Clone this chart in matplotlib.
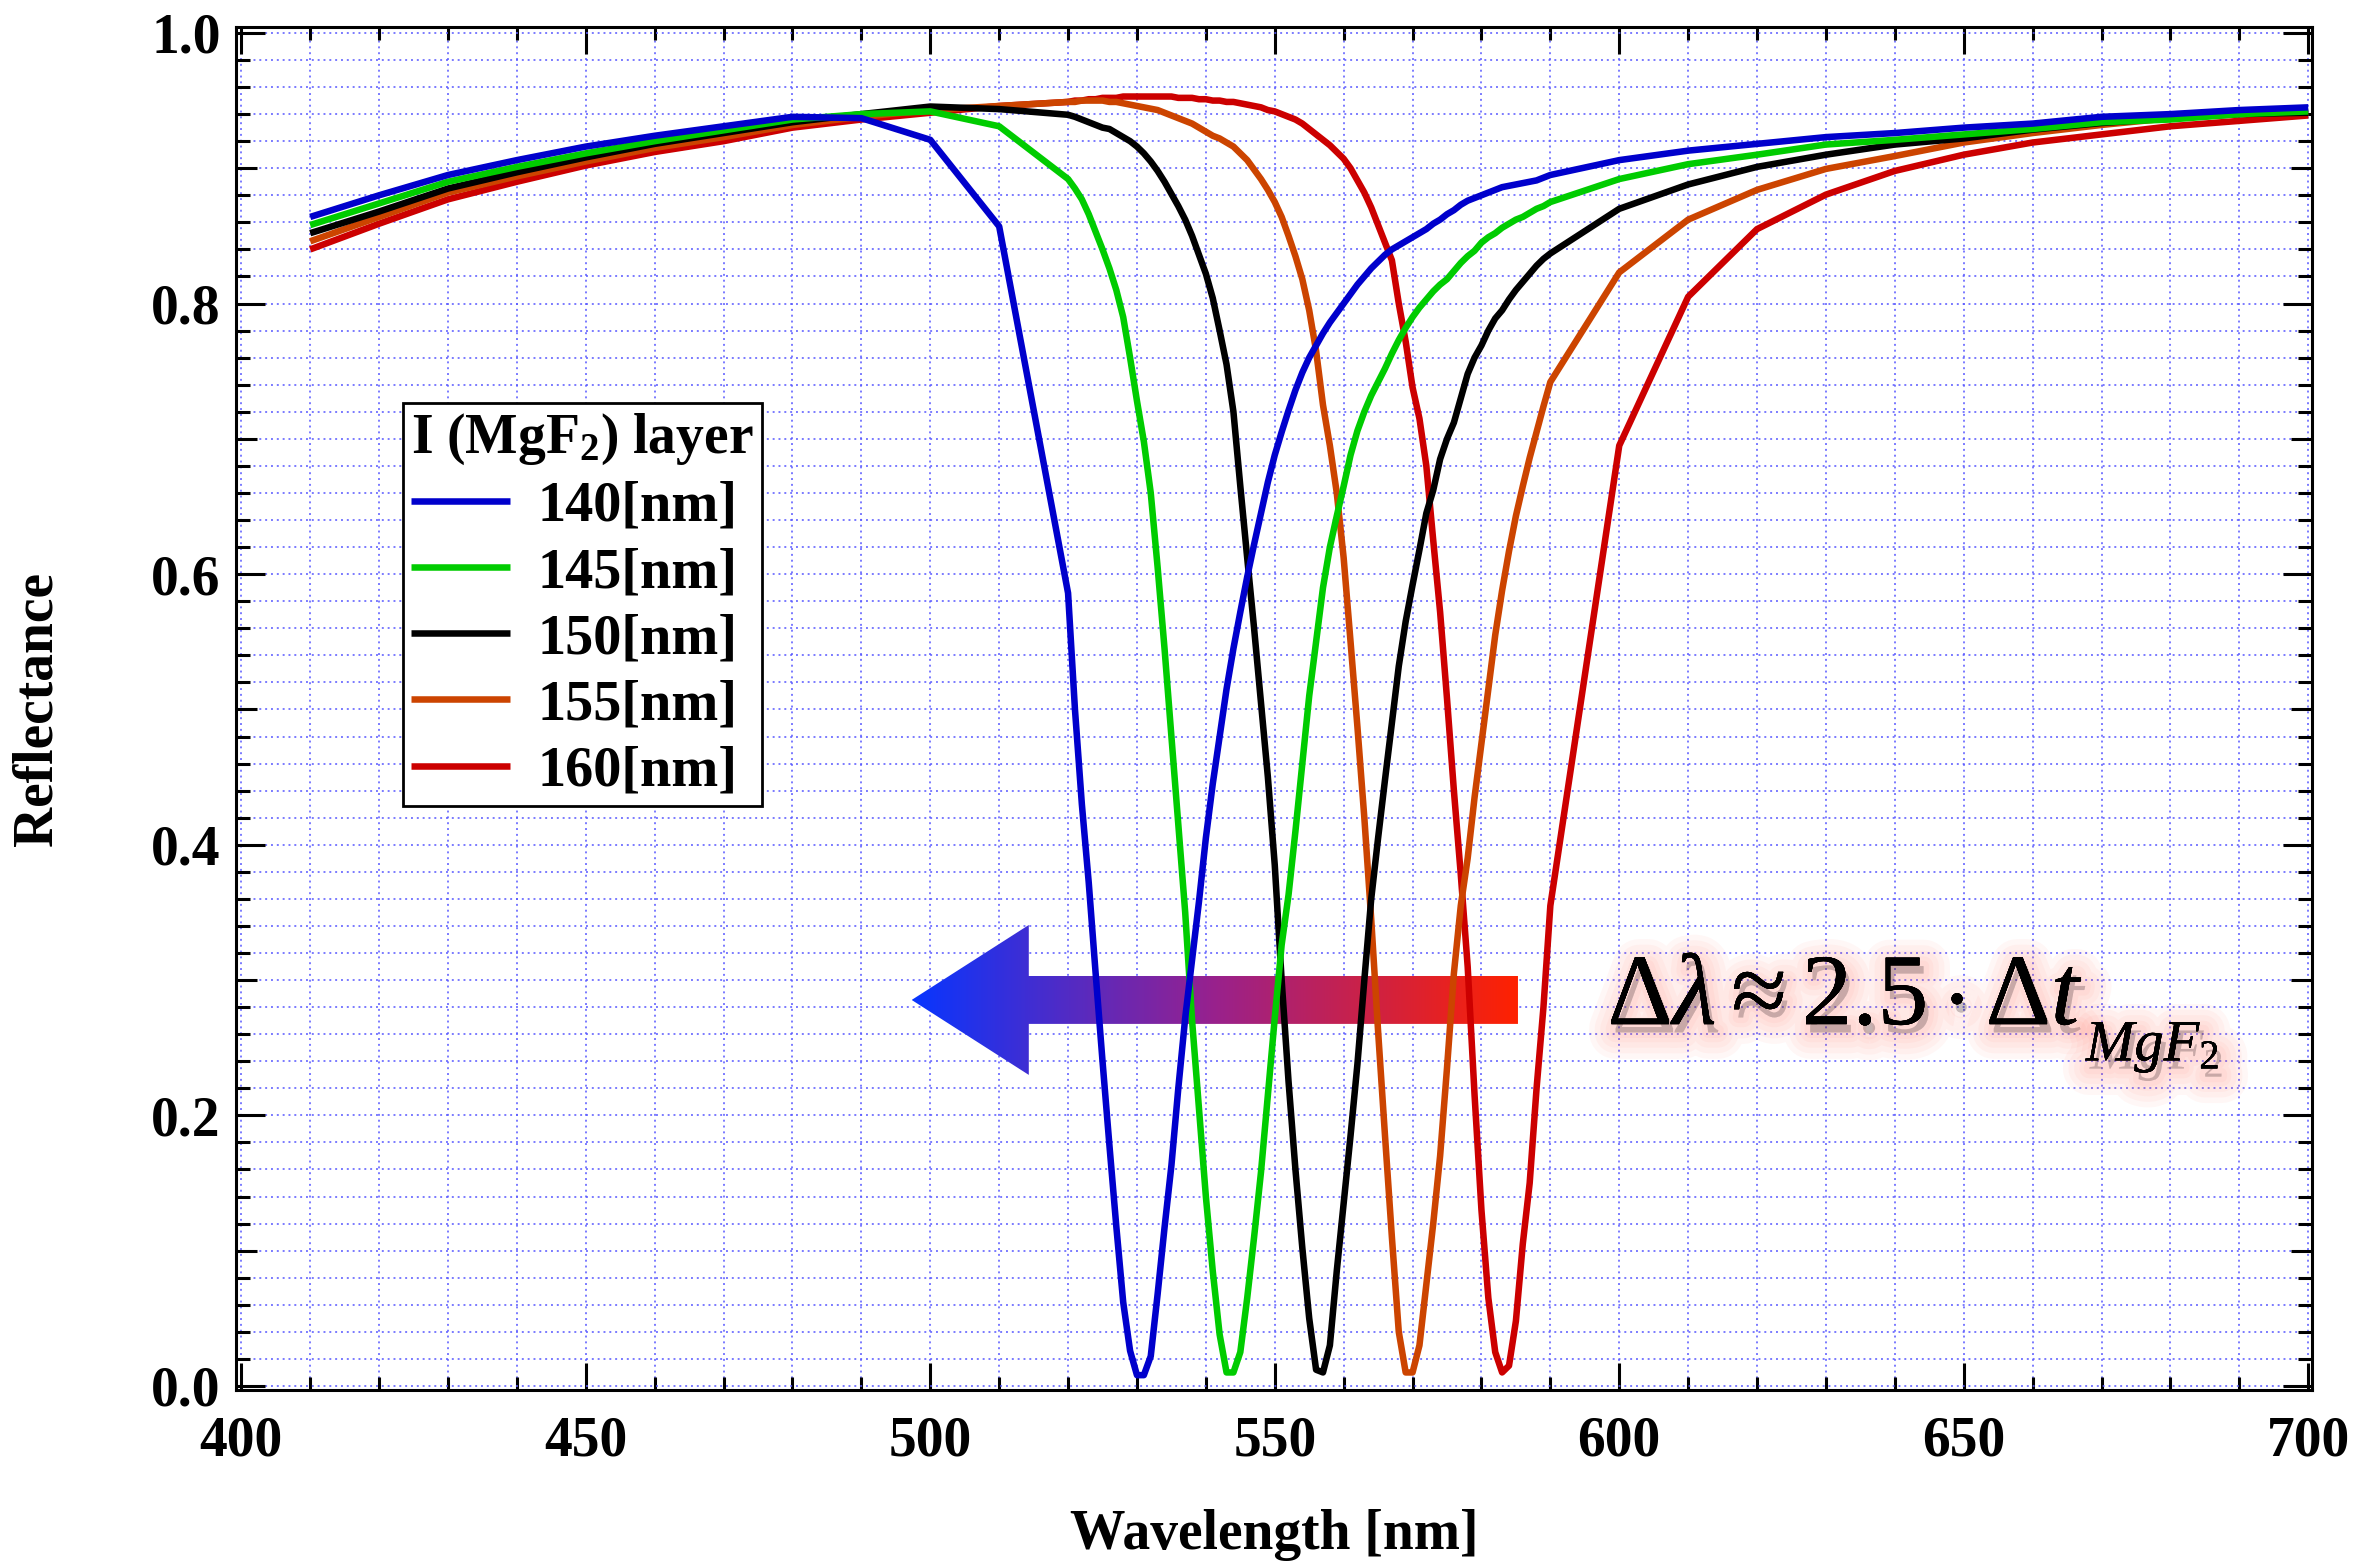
import numpy as np
import matplotlib
matplotlib.use("Agg")
import matplotlib.pyplot as plt
from matplotlib.patches import Polygon
from matplotlib import patheffects as pe
from matplotlib.ticker import MultipleLocator, FixedLocator, FuncFormatter
from matplotlib.colors import LinearSegmentedColormap

plt.rcParams['font.family'] = ['Liberation Serif', 'DejaVu Serif']
plt.rcParams['font.weight'] = 'normal'
plt.rcParams['mathtext.fontset'] = 'custom'
plt.rcParams['mathtext.rm'] = 'Liberation Serif'
plt.rcParams['mathtext.it'] = 'Liberation Serif:italic'
plt.rcParams['mathtext.bf'] = 'Liberation Serif:bold'

# ---------------- data ----------------
# sample grid: coarse 410..510, fine 520..590 (1 nm), coarse 600..700
wavelength = np.r_[np.arange(410, 520, 10), np.arange(520, 591), np.arange(600, 701, 10)]

labels = ["140[nm]", "145[nm]", "150[nm]", "155[nm]", "160[nm]"]
colors = ["#0000cc", "#00cc00", "#000000", "#cc4400", "#cc0000"]

r_140 = [0.864, 0.880, 0.895, 0.906, 0.916, 0.924, 0.931, 0.938, 0.937, 0.921, 0.857,
         0.586, 0.500, 0.430, 0.372, 0.305, 0.240, 0.178, 0.118, 0.062, 0.026,
         0.008, 0.008, 0.022, 0.068, 0.117, 0.163, 0.220, 0.272, 0.315, 0.358,
         0.405, 0.445, 0.480, 0.515, 0.545, 0.572, 0.598, 0.622, 0.645, 0.668,
         0.688, 0.705, 0.721, 0.736, 0.749, 0.760, 0.769, 0.778, 0.786, 0.793,
         0.800, 0.807, 0.814, 0.820, 0.826, 0.831, 0.836, 0.840, 0.843, 0.846,
         0.849, 0.852, 0.855, 0.859, 0.862, 0.866, 0.869, 0.873, 0.876, 0.878,
         0.880, 0.882, 0.884, 0.886, 0.887, 0.888, 0.889, 0.890, 0.891, 0.893,
         0.895,
         0.906, 0.913, 0.918, 0.923, 0.926, 0.930, 0.933, 0.938, 0.940, 0.943, 0.945]

r_145 = [0.858, 0.874, 0.890, 0.901, 0.911, 0.920, 0.928, 0.936, 0.940, 0.942, 0.931,
         0.892, 0.885, 0.877, 0.866, 0.853, 0.840, 0.826, 0.810, 0.790, 0.760,
         0.728, 0.698, 0.660, 0.605, 0.545, 0.480, 0.415, 0.350, 0.270, 0.205,
         0.140, 0.085, 0.038, 0.010, 0.010, 0.025, 0.065, 0.110, 0.158, 0.215,
         0.272, 0.326, 0.363, 0.410, 0.460, 0.510, 0.550, 0.590, 0.620, 0.643,
         0.665, 0.688, 0.706, 0.720, 0.732, 0.742, 0.752, 0.763, 0.773, 0.782,
         0.790, 0.797, 0.803, 0.809, 0.814, 0.818, 0.824, 0.830, 0.835, 0.839,
         0.845, 0.849, 0.852, 0.856, 0.859, 0.862, 0.864, 0.867, 0.870, 0.872,
         0.875,
         0.892, 0.903, 0.910, 0.9175, 0.921, 0.925, 0.929, 0.934, 0.936, 0.940, 0.942]

r_150 = [0.852, 0.868, 0.885, 0.897, 0.908, 0.918, 0.926, 0.934, 0.940, 0.9456, 0.9437,
         0.9395, 0.938, 0.936, 0.934, 0.932, 0.930, 0.929, 0.926, 0.923, 0.920,
         0.916, 0.911, 0.905, 0.898, 0.890, 0.881, 0.872, 0.862, 0.850, 0.836,
         0.822, 0.804, 0.780, 0.755, 0.720, 0.665, 0.612, 0.560, 0.505, 0.450,
         0.385, 0.300, 0.225, 0.160, 0.102, 0.050, 0.012, 0.010, 0.030, 0.085,
         0.135, 0.185, 0.238, 0.300, 0.360, 0.405, 0.448, 0.490, 0.532, 0.565,
         0.592, 0.618, 0.645, 0.662, 0.685, 0.700, 0.712, 0.730, 0.748, 0.760,
         0.769, 0.780, 0.789, 0.795, 0.803, 0.810, 0.816, 0.822, 0.828, 0.833,
         0.837,
         0.870, 0.888, 0.901, 0.910, 0.9175, 0.922, 0.9285, 0.9334, 0.937, 0.940, 0.941]

r_155 = [0.846, 0.864, 0.882, 0.894, 0.905, 0.915, 0.923, 0.932, 0.938, 0.943, 0.946,
         0.949, 0.949, 0.950, 0.950, 0.950, 0.950, 0.949, 0.949, 0.948, 0.947,
         0.946, 0.945, 0.944, 0.943, 0.941, 0.939, 0.937, 0.935, 0.933, 0.930,
         0.927, 0.924, 0.922, 0.919, 0.916, 0.911, 0.906, 0.899, 0.892, 0.884,
         0.875, 0.864, 0.850, 0.835, 0.818, 0.795, 0.765, 0.725, 0.695, 0.660,
         0.612, 0.550, 0.487, 0.420, 0.345, 0.262, 0.185, 0.110, 0.040, 0.010,
         0.010, 0.030, 0.075, 0.120, 0.170, 0.235, 0.305, 0.355, 0.390, 0.435,
         0.475, 0.515, 0.555, 0.588, 0.617, 0.643, 0.665, 0.686, 0.705, 0.724,
         0.742,
         0.823, 0.862, 0.884, 0.8995, 0.909, 0.919, 0.926, 0.932, 0.937, 0.940, 0.941]

r_160 = [0.840, 0.859, 0.877, 0.890, 0.902, 0.912, 0.920, 0.930, 0.936, 0.941, 0.946,
         0.949, 0.950, 0.950, 0.951, 0.951, 0.952, 0.952, 0.952, 0.953, 0.953,
         0.953, 0.953, 0.953, 0.953, 0.953, 0.953, 0.952, 0.952, 0.952, 0.951,
         0.951, 0.950, 0.950, 0.949, 0.949, 0.948, 0.947, 0.946, 0.945, 0.943,
         0.942, 0.940, 0.938, 0.936, 0.933, 0.929, 0.925, 0.921, 0.917, 0.912,
         0.907, 0.900, 0.891, 0.882, 0.871, 0.858, 0.845, 0.832, 0.800, 0.772,
         0.738, 0.715, 0.680, 0.625, 0.572, 0.508, 0.440, 0.378, 0.310, 0.215,
         0.130, 0.065, 0.025, 0.010, 0.015, 0.048, 0.105, 0.150, 0.220, 0.280,
         0.355,
         0.695, 0.805, 0.855, 0.8805, 0.898, 0.910, 0.919, 0.925, 0.931, 0.935, 0.939]

series = [r_140, r_145, r_150, r_155, r_160]

x_ticks = [400, 450, 500, 550, 600, 650, 700]
y_ticks = [0.0, 0.1, 0.2, 0.3, 0.4, 0.5, 0.6, 0.7, 0.8, 0.9, 1.0]

# ---------------- figure ----------------
fig = plt.figure(figsize=(23.77, 15.68), dpi=100)
ax = fig.add_axes([0.0992, 0.1135, 0.8736, 0.8693])

for i, (r, lab, c) in enumerate(zip(series, labels, colors)):
    ax.plot(wavelength, r, color=c, lw=4.7, label=lab, zorder=4 - i * 0.1,
            solid_joinstyle='round', solid_capstyle='butt')

# gradient arrow (annotation)
tip_x, head_x, tail_x = 497.3, 514.3, 585.3
arr_y, shaft_h, head_h = 0.2853, 0.0177, 0.0554
verts = [(tip_x, arr_y), (head_x, arr_y + head_h), (head_x, arr_y + shaft_h),
         (tail_x, arr_y + shaft_h), (tail_x, arr_y - shaft_h),
         (head_x, arr_y - shaft_h), (head_x, arr_y - head_h)]
poly = Polygon(verts, closed=True, facecolor='none', edgecolor='none')
ax.add_patch(poly)
cmap = LinearSegmentedColormap.from_list('arr', [(0.03, 0.21, 1.0), (0.6, 0.13, 0.55), (1.0, 0.13, 0.0)])
grad = np.linspace(0, 1, 512).reshape(1, -1)
im = ax.imshow(grad, extent=[tip_x, tail_x, arr_y - head_h, arr_y + head_h],
               aspect='auto', cmap=cmap, origin='lower', zorder=2, interpolation='bilinear')
im.set_clip_path(poly)

# formula with glow
glow = [pe.withStroke(linewidth=lw, foreground=(1.0, 0.4, 0.35), alpha=0.05, offset=(3, -6))
        for lw in (38, 30, 22, 14, 8)] + [pe.Normal()]
t1 = ax.text(598.3, 0.267, r"$\Delta\lambda \approx 2.5\cdot\Delta t$", fontsize=73,
             ha='left', va='baseline', zorder=5, path_effects=glow)
ax.annotate(r"$MgF_2$", xy=(1, 0), xycoords=t1, xytext=(2, -10), textcoords='offset points',
            fontsize=42, ha='left', va='baseline', zorder=5, path_effects=glow)

# axes
ax.set_xlim(399.2, 700.6)
ax.set_ylim(-0.003, 1.0044)
ax.xaxis.set_major_locator(FixedLocator(x_ticks))
ax.xaxis.set_minor_locator(MultipleLocator(10))
ax.yaxis.set_major_locator(FixedLocator(y_ticks))
ax.yaxis.set_minor_locator(MultipleLocator(0.02))
ax.yaxis.set_major_formatter(FuncFormatter(
    lambda v, p: f"{v:.1f}" if int(round(v * 10)) % 2 == 0 else ""))

ax.tick_params(which='both', direction='in', top=True, right=True, width=2.2, color='black')
ax.tick_params(axis='y', which='major', length=21, pad=11, labelsize=40)
ax.tick_params(axis='y', which='minor', length=10)
ax.tick_params(axis='x', which='major', length=19.5, pad=18, labelsize=40)
ax.tick_params(axis='x', which='minor', length=9.5)
for tick, v in zip(ax.yaxis.get_major_ticks(), y_ticks):
    if int(round(v * 10)) % 2:
        tick.tick1line.set_markersize(15)
        tick.tick2line.set_markersize(15)
    tick.label1.set_fontweight('bold')
for tick in ax.xaxis.get_major_ticks():
    tick.label1.set_fontweight('bold')

for sp in ax.spines.values():
    sp.set_linewidth(2.2)

ax.grid(which='both', color=(0.35, 0.35, 1.0), alpha=0.8, linewidth=1.4,
        linestyle=(0, (1, 2.0)))
ax.set_axisbelow(True)

ax.set_xlabel("Wavelength [nm]", fontsize=40, fontweight='bold', labelpad=30)
ax.set_ylabel("Reflectance", fontsize=40, fontweight='bold', labelpad=63)

leg = ax.legend(loc='upper left', bbox_to_anchor=(0.0805, 0.7241), borderaxespad=0,
                title=r"I (MgF$_\mathbf{2}$) layer",
                prop={'family': 'Liberation Serif', 'weight': 'bold', 'size': 40.5},
                title_fontproperties={'family': 'Liberation Serif', 'weight': 'bold', 'size': 40},
                alignment='left', handlelength=1.76, handletextpad=0.49, labelspacing=0.25,
                borderpad=0.15, fancybox=False, framealpha=1, edgecolor='black')
leg.get_frame().set_linewidth(2.0)
leg.set_zorder(10)

fig.savefig("out.png", dpi=100, facecolor='white')
